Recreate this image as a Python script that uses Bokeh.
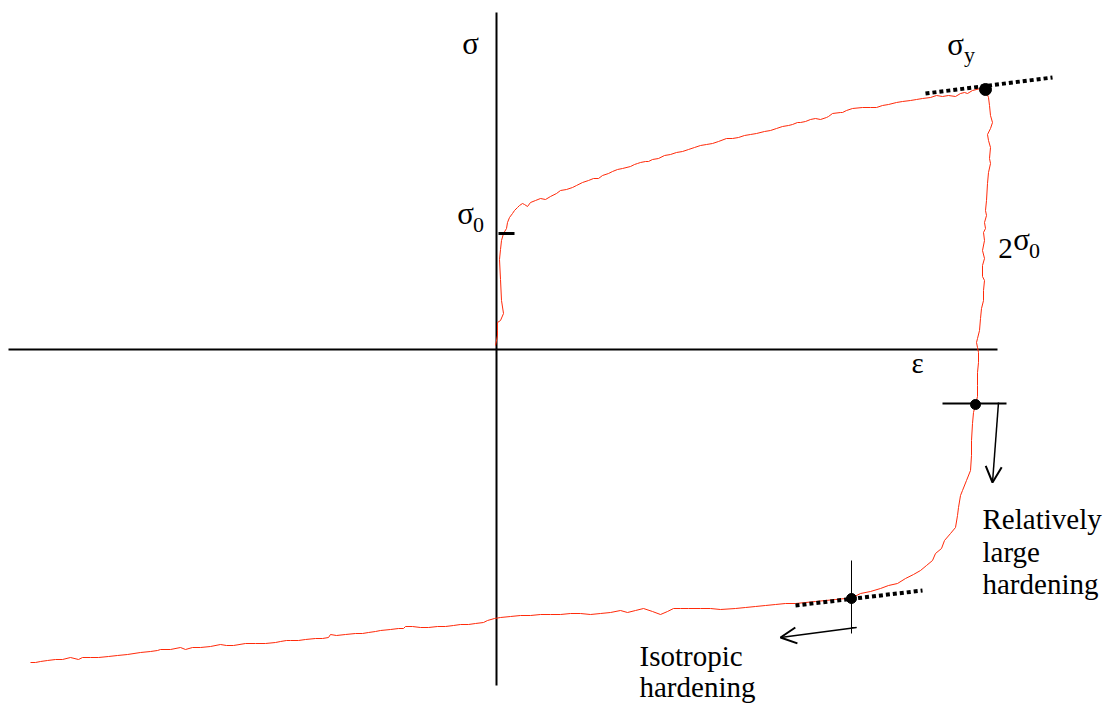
from bokeh.plotting import figure
from bokeh.models import Range1d, Arrow, OpenHead
from bokeh.core.properties import value
from bokeh.embed import file_html
from bokeh.resources import INLINE

# Schematic stress-strain loop: initial loading to sigma_y, then reversed loading.
# Units are arbitrary (strain on x, stress on y), origin at the axis crossing.

load_strain = [-1, 1, 1, 1, 4, 7, 5, 4, 3, 4, 5, 7, 10, 11, 13, 16, 18, 21, 23, 26, 28, 31, 34, 39,
               44, 49, 54, 60, 64, 70, 76, 80, 86, 92, 97, 102, 106, 112, 116, 121, 126, 134, 138,
               141, 144, 149, 152, 156, 162, 168, 174, 180, 186, 192, 198, 204, 210, 216, 222, 230,
               236, 242, 248, 254, 260, 268, 274, 280, 286, 292, 296, 301, 304, 309, 314, 319, 324,
               330, 332, 336, 344, 346, 350, 356, 366, 374, 380, 386, 392, 400, 406, 414, 420, 426,
               434, 440, 446, 452, 459, 464, 468, 471, 476, 484, 489]
load_stress = [4, 14, 19, 27, 29, 36, 49, 70, 90, 100, 109, 116, 121, 127, 132, 136, 139, 142, 144,
               146, 145, 143, 147, 149, 151, 150, 153, 156, 159, 160, 162, 164, 167, 169, 171, 171,
               174, 176, 178, 180, 181, 183, 185, 186, 187, 188, 188, 190, 191, 194, 195, 197, 198,
               200, 202, 204, 205, 206, 208, 211, 211, 212, 214, 215, 216, 218, 219, 221, 223, 224,
               225, 227, 227, 228, 230, 231, 230, 232, 233, 236, 237, 237, 239, 241, 242, 242, 242,
               244, 245, 247, 248, 249, 250, 251, 252, 254, 253, 254, 253, 256, 257, 256, 259, 261,
               261, 260]

reverse_strain = [489, 492, 493, 494, 496, 494, 491, 492, 494, 493, 494, 492, 491, 490, 489, 490,
                  488, 489, 487, 488, 486, 488, 486, 486, 488, 487, 487, 485, 484, 483, 481, 480,
                  481, 482, 482, 481, 481, 481, 479, 477, 476, 475, 475, 474, 470, 466, 464, 462,
                  461, 459, 454, 448, 445, 439, 436, 430, 424, 417, 409, 401, 392, 384, 374, 364,
                  356, 349, 339, 329, 319, 309, 299, 289, 279, 269, 259, 249, 239, 224, 214, 204,
                  192, 184, 177, 171, 164, 156, 147, 139, 131, 124, 114, 104, 94, 84, 74, 64, 54,
                  44, 34, 24, 14, 4, -2, -9, -13, -21, -28, -36, -43, -51, -59, -68, -76, -84, -91,
                  -93, -98, -106, -116, -121, -128, -134, -141, -151, -160, -166, -168, -174, -181,
                  -191, -198, -206, -210, -216, -221, -231, -241, -251, -263, -270, -276, -286,
                  -296, -304, -311, -316, -326, -336, -339, -346, -356, -369, -379, -388, -398,
                  -406, -414, -418, -426, -434, -441, -449, -456, -461, -466]
reverse_stress = [260, 252, 244, 234, 227, 221, 215, 209, 202, 191, 186, 177, 166, 149, 139, 134,
                  127, 121, 117, 109, 99, 91, 84, 73, 69, 59, 49, 41, 31, 19, 11, 7, 2, -3, -13,
                  -23, -36, -47, -55, -63, -74, -91, -106, -121, -131, -141, -146, -158, -166,
                  -178, -184, -191, -199, -204, -211, -216, -221, -225, -229, -234, -236, -239,
                  -242, -244, -248, -249, -250, -251, -252, -253, -254, -254, -255, -256, -257,
                  -258, -259, -260, -259, -259, -259, -259, -259, -262, -265, -262, -259, -261,
                  -263, -261, -263, -264, -265, -264, -264, -265, -265, -265, -266, -266, -267,
                  -268, -269, -271, -273, -274, -275, -275, -276, -277, -277, -278, -278, -277,
                  -277, -279, -279, -280, -281, -282, -283, -284, -284, -285, -286, -285, -288,
                  -289, -289, -290, -291, -291, -291, -292, -293, -294, -294, -294, -296, -296,
                  -295, -297, -298, -298, -300, -298, -300, -300, -301, -302, -303, -305, -306,
                  -307, -308, -308, -308, -310, -308, -310, -310, -311, -312, -313, -313]

sigma_0 = 116                    # initial yield stress
yield_point = (489, 260)         # sigma_y at end of forward loading
reverse_yield = (479, -55)       # yield on reversal (kinematic-like)
iso_point = (355, -249)          # yield on reversal under isotropic hardening

RED = "#ff2a0a"
SERIF = value("Liberation Serif")

p = figure(width=1106, height=704, output_backend="svg", toolbar_location=None,
           x_range=Range1d(-496, 610), y_range=Range1d(-355, 349),
           min_border=0, outline_line_color=None, background_fill_color="white")
p.axis.visible = False
p.grid.visible = False

# axes
p.line([0, 0], [337, -336], line_color="black", line_width=2)
p.line([-488, 501], [0, 0], line_color="black", line_width=2)

# stress-strain curve
p.line(load_strain, load_stress, line_color=RED, line_width=1)
p.line(reverse_strain, reverse_stress, line_color=RED, line_width=1)

# sigma_0 tick
p.line([2, 18], [sigma_0, sigma_0], line_color="black", line_width=3)

# hardening slope at sigma_y
p.line([429, 556], [256, 272], line_color="black", line_width=4, line_dash="4 3")
p.scatter([yield_point[0]], [yield_point[1]], size=12, color="black")

# reversal yield under relatively large hardening
p.line([446, 510], [reverse_yield[1] + 1, reverse_yield[1] + 1], line_color="black", line_width=2)
p.scatter([reverse_yield[0]], [reverse_yield[1]], size=10, color="black")
p.add_layout(Arrow(end=OpenHead(size=16, line_width=2, line_color="black"),
                   x_start=502, y_start=-53, x_end=496, y_end=-133,
                   line_width=1.5, line_color="black"))

# isotropic hardening
p.line([299, 426], [-256, -241], line_color="black", line_width=4, line_dash="4 3")
p.line([iso_point[0], iso_point[0]], [-211, -284], line_color="black", line_width=1)
p.line([iso_point[0], 360], [-278, -278], line_color="black", line_width=1)
p.scatter([iso_point[0]], [iso_point[1]], size=10, color="black")
p.add_layout(Arrow(end=OpenHead(size=16, line_width=2, line_color="black"),
                   x_start=360, y_start=-278, x_end=284, y_end=-288,
                   line_width=1.5, line_color="black"))

# labels
def label(x, y, s, size, align="center"):
    p.text([x], [y], text=[s], text_font=SERIF, text_font_size=size,
           text_align=align, text_baseline="alphabetic", text_color="black")

label(-26, 306, "σ", "31px")
label(-31, 136, "σ", "31px")
label(-18, 125, "0", "22px")
label(459, 305, "σ", "31px")
label(473, 295, "y", "22px")
label(509, 101, "2", "29px")
label(525, 110, "σ", "31px")
label(538, 99, "0", "22px")
label(421, -13, "ε", "29px")
label(486, -169, "Relatively", "29px", "left")
label(486, -202, "large", "29px", "left")
label(486, -234, "hardening", "29px", "left")
label(143, -306, "Isotropic", "29px", "left")
label(143, -337, "hardening", "29px", "left")

open("out.html", "w").write(file_html(p, INLINE))
